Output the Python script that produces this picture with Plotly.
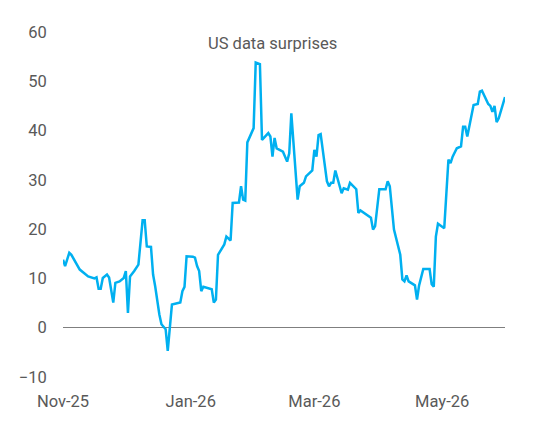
"""US data surprises index, Nov-25 to May-26."""

import plotly.graph_objects as go

# Turning points of the line.
dates = [
    "2025-11-01", "2025-11-02", "2025-11-04", "2025-11-05", "2025-11-09",
    "2025-11-12", "2025-11-13", "2025-11-16", "2025-11-17", "2025-11-18",
    "2025-11-19", "2025-11-20", "2025-11-22", "2025-11-23", "2025-11-25",
    "2025-11-26", "2025-11-28", "2025-11-30", "2025-12-01", "2025-12-02",
    "2025-12-03", "2025-12-05", "2025-12-07", "2025-12-09", "2025-12-10",
    "2025-12-11", "2025-12-13", "2025-12-14", "2025-12-15", "2025-12-17",
    "2025-12-18", "2025-12-20", "2025-12-21", "2025-12-23", "2025-12-25",
    "2025-12-27", "2025-12-28", "2025-12-29", "2025-12-30", "2026-01-02",
    "2026-01-03", "2026-01-04", "2026-01-05", "2026-01-06", "2026-01-07",
    "2026-01-09", "2026-01-11", "2026-01-12", "2026-01-13", "2026-01-14",
    "2026-01-17", "2026-01-18", "2026-01-20", "2026-01-21", "2026-01-24",
    "2026-01-25", "2026-01-26", "2026-01-27", "2026-01-28", "2026-01-31",
    "2026-02-01", "2026-02-03", "2026-02-04", "2026-02-07", "2026-02-08",
    "2026-02-09", "2026-02-10", "2026-02-11", "2026-02-14", "2026-02-16",
    "2026-02-17", "2026-02-18", "2026-02-21", "2026-02-22", "2026-02-24",
    "2026-02-25", "2026-02-28", "2026-03-01", "2026-03-02", "2026-03-03",
    "2026-03-04", "2026-03-07", "2026-03-08", "2026-03-09", "2026-03-10",
    "2026-03-11", "2026-03-13", "2026-03-14", "2026-03-15", "2026-03-17",
    "2026-03-18", "2026-03-21", "2026-03-22", "2026-03-23", "2026-03-28",
    "2026-03-29", "2026-03-30", "2026-04-01", "2026-04-04", "2026-04-05",
    "2026-04-06", "2026-04-08", "2026-04-11", "2026-04-12", "2026-04-13",
    "2026-04-14", "2026-04-15", "2026-04-18", "2026-04-19", "2026-04-20",
    "2026-04-22", "2026-04-25", "2026-04-26", "2026-04-27", "2026-04-28",
    "2026-04-29", "2026-05-02", "2026-05-04", "2026-05-05", "2026-05-06",
    "2026-05-08", "2026-05-10", "2026-05-11", "2026-05-12", "2026-05-13",
    "2026-05-16", "2026-05-18", "2026-05-19", "2026-05-20", "2026-05-23",
    "2026-05-24", "2026-05-25", "2026-05-26", "2026-05-27", "2026-05-28",
    "2026-05-29", "2026-05-31",
]
surprise = [
    13.8, 12.5, 15.2, 14.8, 11.8,
    10.8, 10.4, 10.0, 10.2, 7.9,
    7.9, 10.1, 10.8, 10.2, 5.1,
    9.1, 9.4, 10.1, 11.5, 3.0,
    10.4, 11.5, 12.8, 21.8, 21.8,
    16.5, 16.4, 10.8, 8.4, 2.7,
    0.7, -0.3, -4.7, 4.7, 4.9,
    5.1, 7.4, 8.3, 14.5, 14.4,
    14.2, 12.5, 11.5, 7.4, 8.3,
    8.1, 7.8, 5.1, 5.7, 14.8,
    16.9, 18.5, 17.7, 25.3, 25.4,
    28.7, 26.0, 25.8, 37.6, 40.5,
    53.8, 53.5, 38.1, 39.5, 38.8,
    34.7, 38.5, 36.4, 35.7, 33.7,
    35.4, 43.5, 26.0, 28.7, 29.4,
    30.7, 31.9, 36.1, 34.7, 39.1,
    39.3, 29.7, 28.7, 29.4, 29.4,
    31.9, 28.7, 27.3, 28.3, 28.0,
    29.4, 28.1, 23.3, 23.8, 22.3,
    19.9, 20.6, 28.1, 28.1, 29.7,
    28.7, 19.9, 14.8, 9.8, 9.4,
    10.6, 9.4, 8.6, 5.7, 8.6,
    11.9, 11.9, 8.8, 8.3, 18.5,
    21.1, 20.2, 34.1, 33.4, 34.7,
    36.4, 36.8, 40.8, 40.8, 38.8,
    45.2, 45.4, 47.9, 48.1, 45.4,
    45.0, 43.8, 45.0, 41.7, 42.5,
    43.8, 46.8,
]

x_tickvals = ["2025-11-01", "2026-01-01", "2026-03-01", "2026-05-01"]
x_ticktext = ["Nov-25", "Jan-26", "Mar-26", "May-26"]
y_tickvals = [-10, 0, 10, 20, 30, 40, 50, 60]

TEXT_GREY = "#595959"
FONT = "Roboto, Arial, sans-serif"
FONT_SIZE = 16.5

fig = go.Figure()
fig.add_trace(
    go.Scatter(
        x=dates,
        y=surprise,
        mode="lines",
        line=dict(color="#00B0F0", width=2.5),
        showlegend=False,
    )
)

fig.add_annotation(
    text="US data surprises",
    xref="paper", yref="paper",
    x=0.475, y=1.0,
    showarrow=False,
    font=dict(family=FONT, size=FONT_SIZE, color=TEXT_GREY),
)

fig.update_xaxes(
    range=["2025-11-01", "2026-05-31"],
    tickvals=x_tickvals,
    ticktext=x_ticktext,
    showgrid=False,
    showline=False,
    zeroline=False,
    ticks="outside",
    ticklen=9,
    tickcolor="rgba(0,0,0,0)",
    tickfont=dict(family=FONT, size=FONT_SIZE, color=TEXT_GREY),
)
fig.update_yaxes(
    range=[-10, 60],
    tickvals=y_tickvals,
    showgrid=False,
    showline=False,
    zeroline=True,
    zerolinecolor="#7f7f7f",
    zerolinewidth=1,
    ticks="outside",
    ticklen=12,
    tickcolor="rgba(0,0,0,0)",
    tickfont=dict(family=FONT, size=FONT_SIZE, color=TEXT_GREY),
)

# The page body adds an 8px offset, so margins are shifted to compensate.
fig.update_layout(
    width=534,
    height=427,
    margin=dict(t=24, b=58, l=55, r=37),
    paper_bgcolor="white",
    plot_bgcolor="white",
)

fig.write_html("out.html")
